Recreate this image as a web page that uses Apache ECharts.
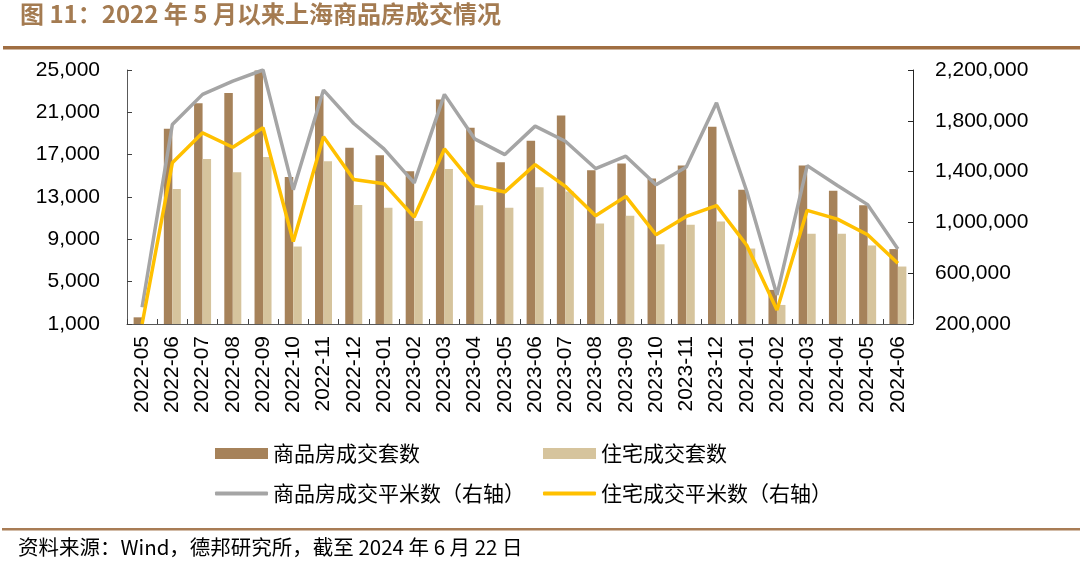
<!DOCTYPE html>
<html>
<head>
<meta charset="utf-8">
<script src="https://cdn.jsdelivr.net/npm/echarts@6/dist/echarts.min.js"></script>
<style>
html,body{margin:0;padding:0;background:#fff;}
#chart{width:1080px;height:561px;}
</style>
</head>
<body>
<div id="chart"></div>
<script>
var months = ['2022-05','2022-06','2022-07','2022-08','2022-09','2022-10','2022-11','2022-12','2023-01','2023-02','2023-03','2023-04','2023-05','2023-06','2023-07','2023-08','2023-09','2023-10','2023-11','2023-12','2024-01','2024-02','2024-03','2024-04','2024-05','2024-06'];
var commUnits = [1630,19450,21850,22820,24950,14900,22530,17650,16950,15430,22220,19540,16280,18310,20710,15520,16160,14740,15970,19640,13690,4220,15970,13600,12210,8080];
var resiUnits = [1000,13760,16600,15330,16790,8320,16380,12240,11990,10730,15650,12210,11990,13930,13530,10500,11230,8530,10380,10690,8130,2800,9530,9530,8420,6430];
var commArea = [332000,1771000,2008000,2113000,2200000,1258000,2042000,1779000,1579000,1311000,2008000,1658000,1534000,1758000,1639000,1424000,1521000,1297000,1437000,1942000,1245000,429000,1447000,1290000,1140000,790000];
var resiArea = [200000,1469000,1705000,1592000,1745000,850000,1674000,1337000,1305000,1042000,1579000,1290000,1240000,1455000,1284000,1053000,1205000,903000,1047000,1132000,820000,310000,1095000,1026000,903000,679000];
var leftTicks = {min:1000, max:25000, interval:4000};
var rightTicks = {min:200000, max:2200000, interval:400000};
var names = ['商品房成交套数','住宅成交套数','商品房成交平米数（右轴）','住宅成交平米数（右轴）'];

var FONT = '"Liberation Sans", Arial, "Noto Sans CJK SC", sans-serif';
var CJK = '"Noto Sans CJK SC", "Liberation Sans", sans-serif';
function fmt(v){ return v.toString().replace(/\B(?=(\d{3})+(?!\d))/g, ','); }

var chart = echarts.init(document.getElementById('chart'), null, {renderer:'canvas'});
var legendText = {fontSize:21, color:'#000', fontFamily:CJK};
var option = {
  animation:false,
  backgroundColor:'#fff',
  textStyle:{fontFamily:FONT},
  grid:{left:127, right:167, top:70, bottom:237, containLabel:false},
  legend:[
    {data:[{name:names[0], icon:'rect'}], left:215, top:443, padding:0, itemWidth:53, itemHeight:11, textStyle:legendText, selectedMode:false},
    {data:[{name:names[1], icon:'rect'}], left:543, top:443, padding:0, itemWidth:53, itemHeight:11, textStyle:legendText, selectedMode:false},
    {data:[{name:names[2], icon:'roundRect'}], left:215, top:483, padding:0, itemWidth:53, itemHeight:4, textStyle:legendText, selectedMode:false},
    {data:[{name:names[3], icon:'roundRect'}], left:543, top:483, padding:0, itemWidth:53, itemHeight:4, textStyle:legendText, selectedMode:false}
  ],
  xAxis:{
    type:'category', data:months, boundaryGap:true,
    axisLine:{show:true, lineStyle:{color:'#595959', width:1}},
    axisTick:{show:true, inside:true, length:5, alignWithLabel:false, lineStyle:{color:'#404040'}},
    axisLabel:{rotate:90, fontSize:21, color:'#000', margin:12, interval:0, fontFamily:FONT},
    splitLine:{show:false}
  },
  yAxis:[
    {type:'value', min:leftTicks.min, max:leftTicks.max, interval:leftTicks.interval,
     axisLine:{show:true, lineStyle:{color:'#595959'}},
     axisTick:{show:true, inside:true, length:5, lineStyle:{color:'#404040'}},
     axisLabel:{fontSize:21, color:'#000', margin:27, formatter:fmt, fontFamily:FONT},
     splitLine:{show:false}},
    {type:'value', min:rightTicks.min, max:rightTicks.max, interval:rightTicks.interval, position:'right',
     axisLine:{show:true, lineStyle:{color:'#262626'}},
     axisTick:{show:true, inside:true, length:5, lineStyle:{color:'#262626'}},
     axisLabel:{fontSize:21, color:'#000', margin:22, formatter:fmt, fontFamily:FONT},
     splitLine:{show:false}}
  ],
  series:[
    {name:names[0], type:'bar', data:commUnits, yAxisIndex:0, barWidth:8.5, barGap:'0%', itemStyle:{color:'#A6825A'}},
    {name:names[1], type:'bar', data:resiUnits, yAxisIndex:0, barWidth:8.5, barGap:'0%', itemStyle:{color:'#D6C49D'}},
    {name:names[2], type:'line', data:commArea, yAxisIndex:1, symbol:'none', lineStyle:{color:'#A5A5A5', width:3.5}, itemStyle:{color:'#A5A5A5'}},
    {name:names[3], type:'line', data:resiArea, yAxisIndex:1, symbol:'none', lineStyle:{color:'#FFC000', width:3.5}, itemStyle:{color:'#FFC000'}}
  ],
  graphic:[
    {type:'text', left:20, top:2, style:{text:'图 11：2022 年 5 月以来上海商品房成交情况', font:'bold 24px ' + CJK, fill:'#A47B51'}},
    {type:'rect', shape:{x:3, y:46, width:1077, height:3.5}, style:{fill:'#A06E42'}},
    {type:'rect', shape:{x:2, y:528, width:1078, height:2.5}, style:{fill:'#A87C55'}},
    {type:'text', left:18, top:537, style:{text:'资料来源：Wind，德邦研究所，截至 2024 年 6 月 22 日', font:'20.5px ' + CJK, fill:'#000'}}
  ]
};
chart.setOption(option);
</script>
</body>
</html>
